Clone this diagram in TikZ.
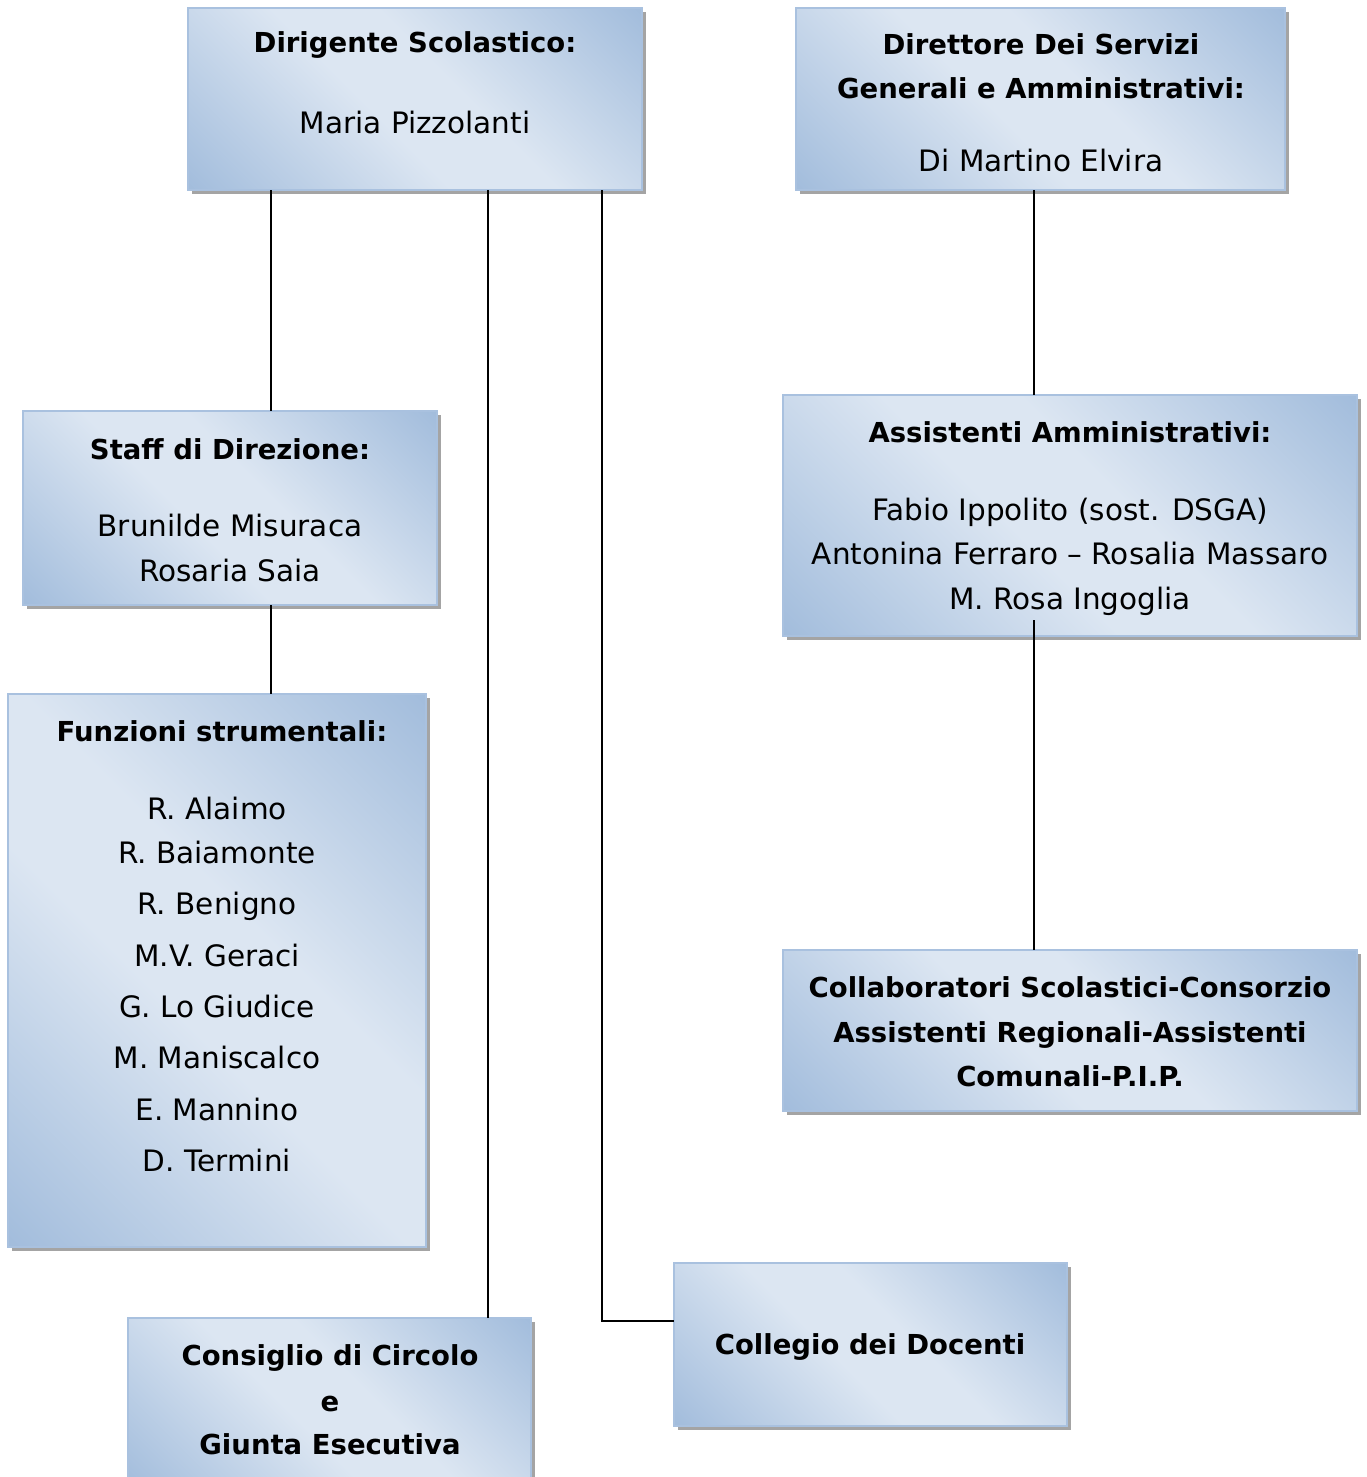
\documentclass[tikz,border=0pt]{standalone}
\usepackage{fontspec}
\setmainfont{DejaVu Sans}
\usetikzlibrary{shadows}
\definecolor{bdk}{HTML}{95B3D7}
\definecolor{blt}{HTML}{DCE6F2}
\definecolor{bbord}{HTML}{A9C1DF}
\definecolor{shd}{HTML}{A4A4A4}
\pgfdeclarehorizontalshading{band}{100bp}{color(0bp)=(bdk); color(8bp)=(bdk); color(44bp)=(blt); color(56bp)=(blt); color(92bp)=(bdk); color(100bp)=(bdk)}
\begin{document}
\begin{tikzpicture}[x=1pt,y=-1pt,
  box/.style={draw=bbord, line width=1.2pt, shading=band, shading angle=45,
    anchor=north west, inner sep=0pt, outer sep=0pt,
    drop shadow={shadow xshift=4pt, shadow yshift=-4pt, fill=shd, opacity=1}},
  ttl/.style={anchor=base, inner sep=0pt, font=\fontsize{27.5}{33}\selectfont\bfseries},
  nm/.style={anchor=base, inner sep=0pt, font=\fontsize{29.5}{35}\selectfont},
  conn/.style={line width=1.8pt, black}]
\useasboundingbox (0,0) rectangle (1366,1477);
% boxes
\node[box, minimum width=454pt, minimum height=182pt] (dir) at (188,8) {};
\node[box, minimum width=489pt, minimum height=182pt] (dsga) at (796,8) {};
\node[box, minimum width=414pt, minimum height=194pt] (staff) at (23,411) {};
\node[box, minimum width=574pt, minimum height=241pt] (ass) at (783,395) {};
\node[box, minimum width=418pt, minimum height=553pt] (fun) at (8,694) {};
\node[box, minimum width=574pt, minimum height=161pt] (col) at (783,950) {};
\node[box, minimum width=403pt, minimum height=170pt] (cons) at (128,1318) {};
\node[box, minimum width=393pt, minimum height=163pt] (coll) at (674,1263) {};
% texts
\node[ttl] (t1a) at (415,53) {Dirigente Scolastico:};
\node[nm] (t1b) at (415,133) {Maria Pizzolanti};
\node[ttl] (t2a) at (1041,55) {Direttore Dei Servizi};
\node[ttl] (t2b) at (1041,99) {Generali e Amministrativi:};
\node[nm] (t2c) at (1041,171) {Di Martino Elvira};
\node[ttl] (t3a) at (230,459) {Staff di Direzione:};
\node[nm] (t3b) at (230,536) {Brunilde Misuraca};
\node[nm] (t3c) at (230,581) {Rosaria Saia};
\node[ttl] (t4a) at (1070,442) {Assistenti Amministrativi:};
\node[nm] (t4b) at (1070,520) {Fabio Ippolito (sost. DSGA)};
\node[nm] (t4c) at (1070,564) {Antonina Ferraro – Rosalia Massaro};
\node[nm] (t4d) at (1070,609) {M. Rosa Ingoglia};
\node[ttl] (t5a) at (222,741) {Funzioni strumentali:};
\node[nm] (t5b) at (217,819) {R. Alaimo};
\node[nm] (t5c) at (217,863) {R. Baiamonte};
\node[nm] (t5d) at (217,914) {R. Benigno};
\node[nm] (t5e) at (217,966) {M.V. Geraci};
\node[nm] (t5f) at (217,1017) {G. Lo Giudice};
\node[nm] (t5g) at (217,1068) {M. Maniscalco};
\node[nm] (t5h) at (217,1120) {E. Mannino};
\node[nm] (t5i) at (217,1171) {D. Termini};
\node[ttl] (t6a) at (1070,997) {Collaboratori Scolastici-Consorzio};
\node[ttl] (t6b) at (1070,1042) {Assistenti Regionali-Assistenti};
\node[ttl] (t6c) at (1070,1086) {Comunali-P.I.P.};
\node[ttl] (t7a) at (330,1365) {Consiglio di Circolo};
\node[ttl] (t7b) at (330,1411) {e};
\node[ttl] (t7c) at (330,1454) {Giunta Esecutiva};
\node[ttl] (t8a) at (870,1354) {Collegio dei Docenti};
% connectors
\coordinate (xa) at (271,0);
\coordinate (xb) at (488,0);
\coordinate (xc) at (602,1321);
\coordinate (xd) at (1034,0);
\coordinate (xe) at (1034,620);
\draw[conn] (xa |- dir.south) -- (xa |- staff.north);
\draw[conn] (xa |- staff.south) -- (xa |- fun.north);
\draw[conn] (xb |- dir.south) -- (xb |- cons.north);
\draw[conn] (xc |- dir.south) -- (xc) -- (xc -| coll.west);
\draw[conn] (xd |- dsga.south) -- (xd |- ass.north);
\draw[conn] (xe) -- (xe |- col.north);
\end{tikzpicture}
\end{document}
